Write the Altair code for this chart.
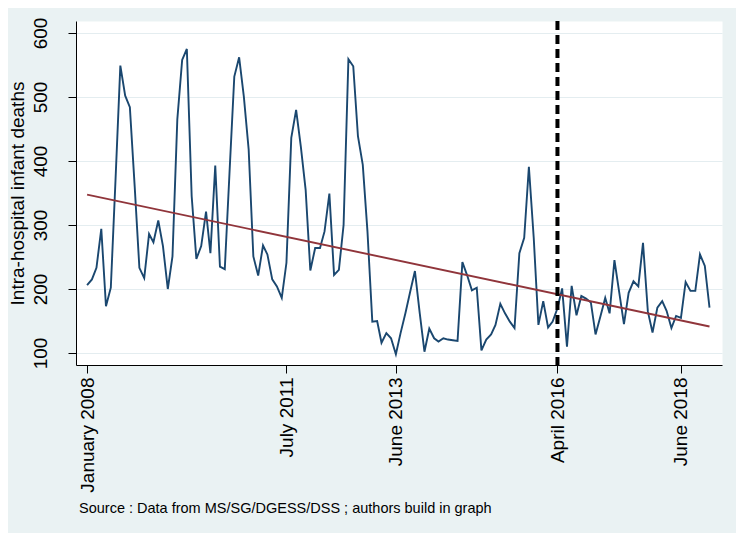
import altair as alt
import pandas as pd

# Monthly intra-hospital infant deaths, January 2008 - December 2018
deaths = [
    206, 215, 233, 294, 173, 202, 370, 549, 502, 484, 360, 233,
    217, 286, 273, 307, 267, 200, 251, 465, 558, 575, 345, 247,
    267, 321, 256, 393, 235, 231, 380, 532, 562, 501, 418, 251,
    221, 268, 254, 215, 204, 186, 241, 436, 480, 423, 355, 229,
    264, 264, 290, 349, 222, 230, 300, 559, 548, 439, 394, 290,
    149, 150, 116, 131, 123, 98, 131, 162, 196, 228, 162, 102,
    138, 123, 118, 123, 121, 120, 119, 242, 221, 198, 202, 104,
    121, 129, 144, 177, 162, 149, 139, 256, 280, 391, 280, 144,
    181, 140, 149, 170, 201, 110, 205, 159, 189, 185, 179, 129,
    157, 186, 162, 245, 196, 145, 194, 212, 204, 272, 165, 132,
    171, 181, 166, 139, 158, 155, 211, 197, 197, 254, 236, 171,
]
months = [f"{2008 + i // 12}-{i % 12 + 1:02d}-01" for i in range(len(deaths))]
month_index = list(range(len(deaths)))

# x-axis tick positions (year, month)
tick_dates = [(2008, 1), (2011, 7), (2013, 6), (2016, 4), (2018, 6)]
y_ticks = [100, 200, 300, 400, 500, 600]
intervention = "2016-04-01"

df = pd.DataFrame({"date": months, "t": month_index, "deaths": deaths})

FONT = "Liberation Sans"
NAVY = "#1a476f"
MAROON = "#90353b"

x_scale = alt.Scale(
    type="utc",
    domain=[alt.DateTime(year=2007, month=10, date=22, utc=True),
            alt.DateTime(year=2019, month=2, date=19, utc=True)],
)
y_scale = alt.Scale(domain=[81.25, 618.75], nice=False, zero=False)

x_axis = alt.Axis(
    title=None,
    values=[alt.DateTime(year=y, month=m, date=1, utc=True) for y, m in tick_dates],
    format="%B %Y",
    labelAngle=270,
    labelFont=FONT,
    labelFontSize=19,
    labelColor="black",
    labelPadding=4,
    tickSize=8,
    tickColor="black",
    domainColor="black",
    grid=False,
)
y_axis = alt.Axis(
    title="Intra-hospital infant deaths",
    values=y_ticks,
    labelAngle=270,
    labelFont=FONT,
    labelFontSize=19,
    labelColor="black",
    labelPadding=18,
    titleFont=FONT,
    titleFontSize=19,
    titleFontWeight="normal",
    titleColor="black",
    titlePadding=4,
    tickSize=8,
    tickColor="black",
    domainColor="black",
    grid=True,
    gridColor="#e4edf0",
    gridWidth=1.2,
)

base = alt.Chart(df)

series = base.mark_line(color=NAVY, strokeWidth=1.9).encode(
    x=alt.X("date:T", scale=x_scale, axis=x_axis),
    y=alt.Y("deaths:Q", scale=y_scale, axis=y_axis),
)

trend = (
    base.transform_regression("t", "deaths", method="linear")
    .transform_calculate(rdate="utc(2008, datum.t, 1)")
    .mark_line(color=MAROON, strokeWidth=1.9)
    .encode(x=alt.X("rdate:T", scale=x_scale), y=alt.Y("deaths:Q", scale=y_scale))
)

rule = (
    alt.Chart(pd.DataFrame({"date": [intervention]}))
    .mark_rule(color="black", strokeWidth=4, strokeDash=[9, 5])
    .encode(x=alt.X("date:T", scale=x_scale))
)

chart = (
    alt.layer(series, trend, rule)
    .properties(
        width=646,
        height=344,
        padding={"left": 68, "top": 13, "right": 14, "bottom": 168},
        autosize=alt.AutoSizeParams(type="none"),
        title=alt.TitleParams(
            text="Source : Data from MS/SG/DGESS/DSS ; authors build in graph",
            orient="bottom",
            anchor="start",
            frame="group",
            baseline="top",
            offset=10,
            dx=3,
            font=FONT,
            fontSize=14.5,
            fontWeight="normal",
            color="black",
        ),
    )
    .configure(background="#EAF2F3")
    .configure_view(fill="white", stroke="transparent")
)

chart.save("out.html", embed_options={"renderer": "svg", "actions": False})
